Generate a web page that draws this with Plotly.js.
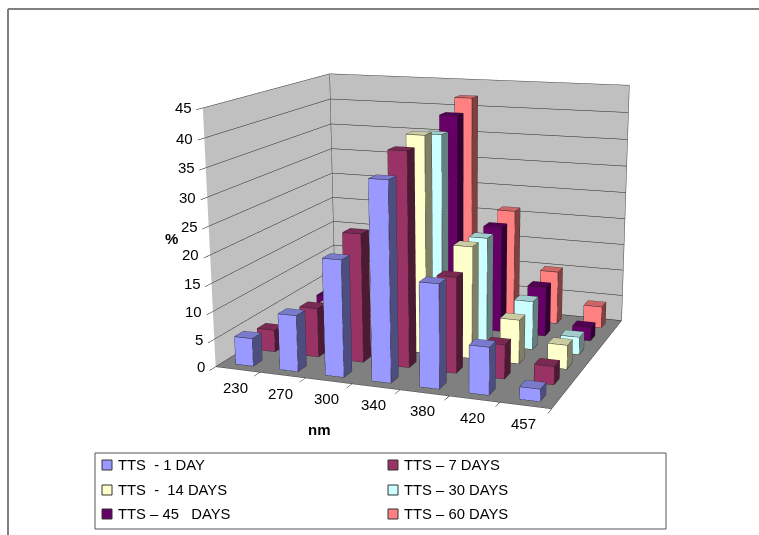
<!DOCTYPE html>
<html><head><meta charset="utf-8">
<script src="https://cdn.plot.ly/plotly-3.0.1.min.js"></script>
<style>html,body{margin:0;padding:0;background:#fff;overflow:hidden;width:759px;height:535px}
#chart{position:absolute;left:-135px;top:-285px;width:1110px;height:1110px}</style>
</head><body><div id="chart"></div>
<script>
const categories = ['230','270','300','340','380','420','457'];
const seriesNames = ['TTS\u00A0\u00A0- 1 DAY','TTS \u2013 7 DAYS','TTS\u00A0\u00A0-\u00A0\u00A014 DAYS','TTS \u2013 30 DAYS','TTS \u2013 45\u00A0\u00A0\u00A0DAYS','TTS \u2013 60 DAYS'];
const day1  = [5, 10, 20.5, 34.5, 18, 8.2, 2.1];
const day7  = [4, 8.9, 23, 37.8, 16.9, 6, 3.2];
const day14 = [4, 7.4, 16, 39.1, 20.2, 7.9, 4.3];
const day30 = [2.4, 8, 17, 37.9, 19.8, 8.9, 3.2];
const day45 = [3.4, 8, 18, 40.1, 19.9, 9.3, 2.5];
const day60 = [4, 8, 19, 42.2, 21.2, 10.1, 4.1];
const zTicks = [0,5,10,15,20,25,30,35,40,45];
const front = ['#9999FF','#993366','#FFFFCC','#CCFFFF','#660066','#FF8080'];
const topC  = ['#7A7ACC','#7A2952','#CCCCA3','#A3CCCC','#520052','#CC6666'];
const side  = ['#4D4D80','#4D1A33','#808066','#668080','#330033','#804040'];
const allSeries = [day1,day7,day14,day30,day45,day60];

const W=1110,H=1110,OX=135,OY=285;
const px=x=>(x+OX)/W, py=y=>1-(y+OY)/H;
const bw=0.4;
const traces=[];
allSeries.forEach((vals,s)=>{
  const X=[],Y=[],Z=[],I=[],J=[],K=[],FC=[];
  const ex=[],ey=[],ez=[];
  vals.forEach((v,c)=>{
    const x0=c+0.5-bw/2,x1=c+0.5+bw/2,y0=s+0.5-bw/2,y1=s+0.5+bw/2;
    const b=X.length;
    [[x0,y0,0],[x1,y0,0],[x1,y1,0],[x0,y1,0],[x0,y0,v],[x1,y0,v],[x1,y1,v],[x0,y1,v]].forEach(p=>{X.push(p[0]);Y.push(p[1]);Z.push(p[2]);});
    const quad=(a,d,e,f,col)=>{I.push(b+a,b+a);J.push(b+d,b+e);K.push(b+e,b+f);FC.push(col,col);};
    quad(0,1,5,4,front[s]); quad(4,5,6,7,topC[s]); quad(1,2,6,5,side[s]); quad(3,0,4,7,side[s]); quad(2,3,7,6,side[s]);
    [[0,1],[1,2],[0,4],[1,5],[2,6],[4,5],[5,6],[6,7],[7,4]].forEach(e=>{
      e.forEach(q=>{ex.push(X[b+q]);ey.push(Y[b+q]);ez.push(Z[b+q]);});
      ex.push(null);ey.push(null);ez.push(null);
    });
  });
  traces.push({type:'mesh3d',name:seriesNames[s],x:X,y:Y,z:Z,i:I,j:J,k:K,facecolor:FC,flatshading:true,
    lighting:{ambient:1,diffuse:0,specular:0,roughness:1,fresnel:0},hoverinfo:'skip',showscale:false});
  traces.push({type:'scatter3d',mode:'lines',x:ex,y:ey,z:ez,line:{color:'#222',width:1},hoverinfo:'skip',showlegend:false});
});
const nx=categories.length, ny=seriesNames.length, nz=45;
const wall={type:'scatter3d',mode:'lines',hoverinfo:'skip',showlegend:false,line:{color:'#444',width:1},
 x:[0,0,nx,nx,null,0,nx,nx,null,0,0,null,0,0],
 y:[0,ny,ny,ny,null,0,0,ny,null,ny,ny,null,0,ny],
 z:[nz,nz,nz,0,null,0,0,0,null,0,nz,null,0,0]};
traces.push(wall);
const font='"Liberation Sans",Arial,sans-serif';
const sceneAnn=[];
zTicks.forEach(v=>sceneAnn.push({x:0,y:0,z:v,text:String(v),showarrow:false,xanchor:'right',yanchor:'middle',xshift:-9,font:{family:font,size:15,color:'#000'}}));
categories.forEach((c,i)=>sceneAnn.push({x:i+0.5,y:0,z:0,text:c,showarrow:false,xanchor:'center',yanchor:'middle',yshift:-18,xshift:-2,font:{family:font,size:15,color:'#000'}}));
const axBase={showgrid:false,zeroline:false,showspikes:false,showticklabels:false,title:{text:''},showline:false};
const shapes=[],annotations=[];
const line=(x0,y0,x1,y1,c,w)=>shapes.push({type:'line',xref:'paper',yref:'paper',x0:px(x0),y0:py(y0),x1:px(x1),y1:py(y1),line:{color:c,width:w}});
line(8,9,759,9,'#808080',2); line(8,9,8,535,'#808080',2);
shapes.push({type:'rect',xref:'paper',yref:'paper',x0:px(95),x1:px(666),y0:py(453),y1:py(529),line:{color:'#555',width:1},fillcolor:'#fff'});
const lx=[102,388],ly=[465,490,514];
seriesNames.forEach((n,i)=>{
  const cx=lx[i%2],cy=ly[Math.floor(i/2)];
  shapes.push({type:'rect',xref:'paper',yref:'paper',x0:px(cx),x1:px(cx+10),y0:py(cy-5),y1:py(cy+5),fillcolor:front[i],line:{color:'#333',width:1}});
  annotations.push({xref:'paper',yref:'paper',x:px(cx+14),y:py(cy),text:n,showarrow:false,xanchor:'left',yanchor:'middle',font:{family:font,size:14.8,color:'#000'}});
});
annotations.push({xref:'paper',yref:'paper',x:px(163),y:py(238),text:'<b>%</b>',showarrow:false,font:{family:font,size:15,color:'#000'}});
annotations.push({xref:'paper',yref:'paper',x:px(319),y:py(429),text:'<b>nm</b>',showarrow:false,font:{family:font,size:15,color:'#000'}});
const layout={width:W,height:H,margin:{l:0,r:0,t:0,b:0},paper_bgcolor:'#fff',showlegend:false,shapes,annotations,
 scene:{domain:{x:[0,1],y:[0,1]},aspectmode:'manual',aspectratio:{x:1.31,y:1.09,z:0.98},
  camera:{eye:{x:1.786,y:-4.743,z:1.166},center:{x:-0.118,y:0.217,z:-0.257},up:{x:0.007,y:0.0027,z:1},projection:{type:'perspective'}},
  xaxis:Object.assign({},axBase,{range:[0,nx],showbackground:true,backgroundcolor:'#C0C0C0',tickvals:[0,1,2,3,4,5,6,7],ticks:'outside',ticklen:6,tickcolor:'#000'}),
  yaxis:Object.assign({},axBase,{range:[0,ny],showbackground:true,backgroundcolor:'#C0C0C0',tickvals:[]}),
  zaxis:Object.assign({},axBase,{range:[0,nz],showbackground:true,backgroundcolor:'#808080',showgrid:true,gridcolor:'#222',gridwidth:1,tickvals:zTicks,ticks:'outside',ticklen:6,tickcolor:'#000'}),
  annotations:sceneAnn,dragmode:false}};
Plotly.newPlot('chart',traces,layout,{displayModeBar:false,responsive:false});
</script></body></html>
